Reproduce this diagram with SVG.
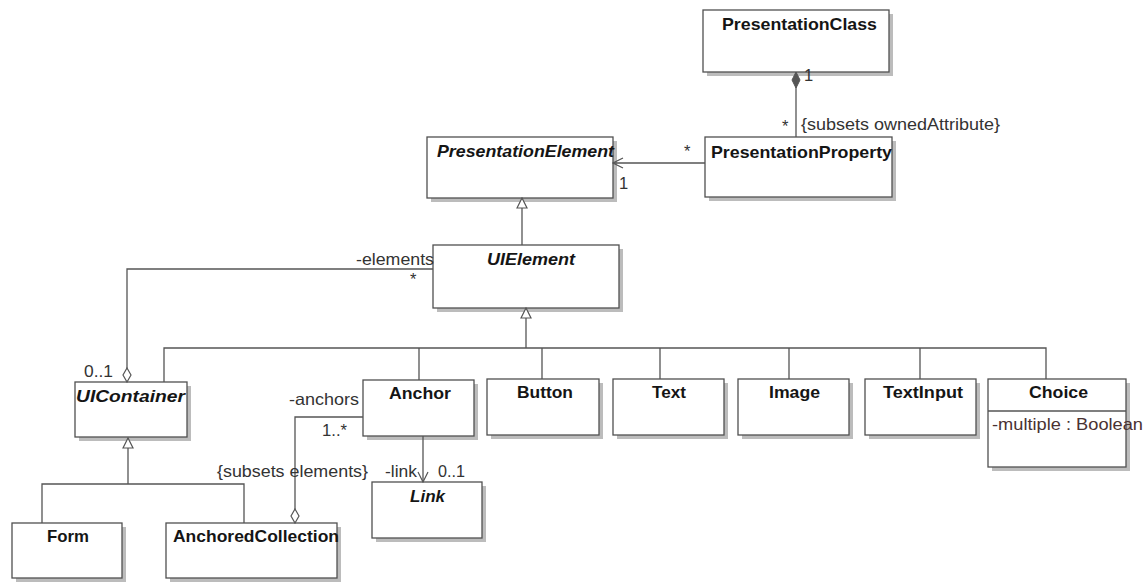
<svg xmlns="http://www.w3.org/2000/svg" width="1145" height="582" viewBox="0 0 1145 582">
<style>
.sh{fill:#bcbcbc;stroke:none}
.bx{fill:#fff;stroke:#505050;stroke-width:1.3}
.t{font-family:"Liberation Sans",Arial,sans-serif;font-weight:bold;font-size:17px;fill:#151515}
.ti{font-family:"Liberation Sans",Arial,sans-serif;font-weight:bold;font-style:italic;font-size:17px;fill:#151515}
.l{font-family:"Liberation Sans",Arial,sans-serif;font-size:16.5px;fill:#333}
.at{font-family:"Liberation Sans",Arial,sans-serif;font-size:16.5px;fill:#4a3232}
.c{fill:none;stroke:#555;stroke-width:1.3}
</style>
<defs>
<marker id="gen" markerUnits="userSpaceOnUse" markerWidth="12" markerHeight="12" refX="10" refY="5" orient="auto" viewBox="-1 -1 12 12"><path d="M0,0 L10,5 L0,10 z" fill="#fff" stroke="#555" stroke-width="1.2"/></marker>
<marker id="arr" markerUnits="userSpaceOnUse" markerWidth="12" markerHeight="12" refX="10" refY="5" orient="auto" viewBox="-1 -1 12 12"><path d="M0,0 L10,5 L0,10" fill="none" stroke="#555" stroke-width="1.2"/></marker>
<marker id="hd" markerUnits="userSpaceOnUse" markerWidth="16" markerHeight="10" refX="14" refY="4" orient="auto" viewBox="-1 -1 16 10"><path d="M0,4 L7,0 L14,4 L7,8 z" fill="#fff" stroke="#555" stroke-width="1.2"/></marker>
<marker id="fd" markerUnits="userSpaceOnUse" markerWidth="18" markerHeight="10" refX="16" refY="4" orient="auto" viewBox="-1 -1 18 10"><path d="M0,4 L8,0 L16,4 L8,8 z" fill="#555" stroke="#555" stroke-width="1"/></marker>
</defs>
<rect width="1145" height="582" fill="#fff"/>

<g id="PresentationClass">
<rect class="sh" x="707" y="14" width="186" height="62"/>
<rect class="bx" x="703" y="10" width="186" height="62"/>
<text class="t" x="722" y="30" textLength="155" lengthAdjust="spacingAndGlyphs">PresentationClass</text>
</g>
<g id="PresentationProperty">
<rect class="sh" x="709" y="141" width="187" height="60"/>
<rect class="bx" x="705" y="137" width="187" height="60"/>
<text class="t" x="711" y="158" textLength="181" lengthAdjust="spacingAndGlyphs">PresentationProperty</text>
</g>
<g id="PresentationElement">
<rect class="sh" x="431" y="141" width="186" height="61"/>
<rect class="bx" x="427" y="137" width="186" height="61"/>
<text class="ti" x="437" y="157" textLength="177" lengthAdjust="spacingAndGlyphs">PresentationElement</text>
</g>
<g id="UIElement">
<rect class="sh" x="437" y="249" width="186" height="63"/>
<rect class="bx" x="433" y="245" width="186" height="63"/>
<text class="ti" x="487" y="265" textLength="88" lengthAdjust="spacingAndGlyphs">UIElement</text>
</g>
<g id="UIContainer">
<rect class="sh" x="79" y="386" width="112" height="55"/>
<rect class="bx" x="75" y="382" width="112" height="55"/>
<text class="ti" x="76" y="402" textLength="109" lengthAdjust="spacingAndGlyphs">UIContainer</text>
</g>
<g id="Anchor">
<rect class="sh" x="367" y="384" width="111" height="56"/>
<rect class="bx" x="363" y="380" width="111" height="56"/>
<text class="t" x="389" y="399" textLength="62" lengthAdjust="spacingAndGlyphs">Anchor</text>
</g>
<g id="Button">
<rect class="sh" x="491" y="383" width="112" height="56"/>
<rect class="bx" x="487" y="379" width="112" height="56"/>
<text class="t" x="517" y="398" textLength="56" lengthAdjust="spacingAndGlyphs">Button</text>
</g>
<g id="Text">
<rect class="sh" x="617" y="383" width="111" height="56"/>
<rect class="bx" x="613" y="379" width="111" height="56"/>
<text class="t" x="652" y="398" textLength="34" lengthAdjust="spacingAndGlyphs">Text</text>
</g>
<g id="Image">
<rect class="sh" x="742" y="383" width="111" height="56"/>
<rect class="bx" x="738" y="379" width="111" height="56"/>
<text class="t" x="769" y="398" textLength="51" lengthAdjust="spacingAndGlyphs">Image</text>
</g>
<g id="TextInput">
<rect class="sh" x="869" y="383" width="111" height="56"/>
<rect class="bx" x="865" y="379" width="111" height="56"/>
<text class="t" x="883" y="398" textLength="80" lengthAdjust="spacingAndGlyphs">TextInput</text>
</g>
<g id="Choice">
<rect class="sh" x="992" y="383" width="138" height="88"/>
<rect class="bx" x="988" y="379" width="138" height="88"/>
<line class="c" x1="988" y1="411" x2="1126" y2="411"/>
<text class="t" x="1029" y="398" textLength="59" lengthAdjust="spacingAndGlyphs">Choice</text>
<text class="at" x="992" y="430" textLength="151" lengthAdjust="spacingAndGlyphs">-multiple : Boolean</text>
</g>
<g id="Link">
<rect class="sh" x="376" y="486" width="110" height="56"/>
<rect class="bx" x="372" y="482" width="110" height="56"/>
<text class="ti" x="410" y="502" textLength="35" lengthAdjust="spacingAndGlyphs">Link</text>
</g>
<g id="Form">
<rect class="sh" x="16" y="527" width="110" height="55"/>
<rect class="bx" x="12" y="523" width="110" height="55"/>
<text class="t" x="47" y="542" textLength="42" lengthAdjust="spacingAndGlyphs">Form</text>
</g>
<g id="AnchoredCollection">
<rect class="sh" x="170" y="527" width="171" height="55"/>
<rect class="bx" x="166" y="523" width="171" height="55"/>
<text class="t" x="173" y="542" textLength="166" lengthAdjust="spacingAndGlyphs">AnchoredCollection</text>
</g>

<g id="connectors">
<path class="c" d="M796,137 L796,72" marker-end="url(#fd)"/>
<path class="c" d="M705,163 L613,163" marker-end="url(#arr)"/>
<path class="c" d="M522,245 L522,198" marker-end="url(#gen)"/>
<path class="c" d="M433,269 L127,269 L127,382" marker-end="url(#hd)"/>
<path class="c" d="M526,348 L526,308" marker-end="url(#gen)"/>
<path class="c" d="M164,382 L164,348 L1046,348 L1046,379 M419,348 L419,380 M542,348 L542,379 M660,348 L660,379 M789,348 L789,379 M920,348 L920,379"/>
<path class="c" d="M363,417 L295,417 L295,523" marker-end="url(#hd)"/>
<path class="c" d="M423,436 L423,482" marker-end="url(#arr)"/>
<path class="c" d="M128,484 L128,438" marker-end="url(#gen)"/>
<path class="c" d="M42,523 L42,484 L244,484 L244,523"/>
<text class="l" x="804" y="81">1</text>
<text class="l" x="782" y="132">*</text>
<text class="l" x="801" y="130" textLength="199" lengthAdjust="spacingAndGlyphs">{subsets ownedAttribute}</text>
<text class="l" x="684" y="157">*</text>
<text class="l" x="619" y="189">1</text>
<text class="l" x="356" y="265" textLength="78" lengthAdjust="spacingAndGlyphs">-elements</text>
<text class="l" x="410" y="285">*</text>
<text class="l" x="84" y="377" textLength="29" lengthAdjust="spacingAndGlyphs">0..1</text>
<text class="l" x="289" y="405" textLength="70" lengthAdjust="spacingAndGlyphs">-anchors</text>
<text class="l" x="322" y="436" textLength="25" lengthAdjust="spacingAndGlyphs">1..*</text>
<text class="l" x="217" y="477" textLength="151" lengthAdjust="spacingAndGlyphs">{subsets elements}</text>
<text class="l" x="385" y="477" textLength="32" lengthAdjust="spacingAndGlyphs">-link</text>
<text class="l" x="438" y="477" textLength="27" lengthAdjust="spacingAndGlyphs">0..1</text>
</g>
</svg>
